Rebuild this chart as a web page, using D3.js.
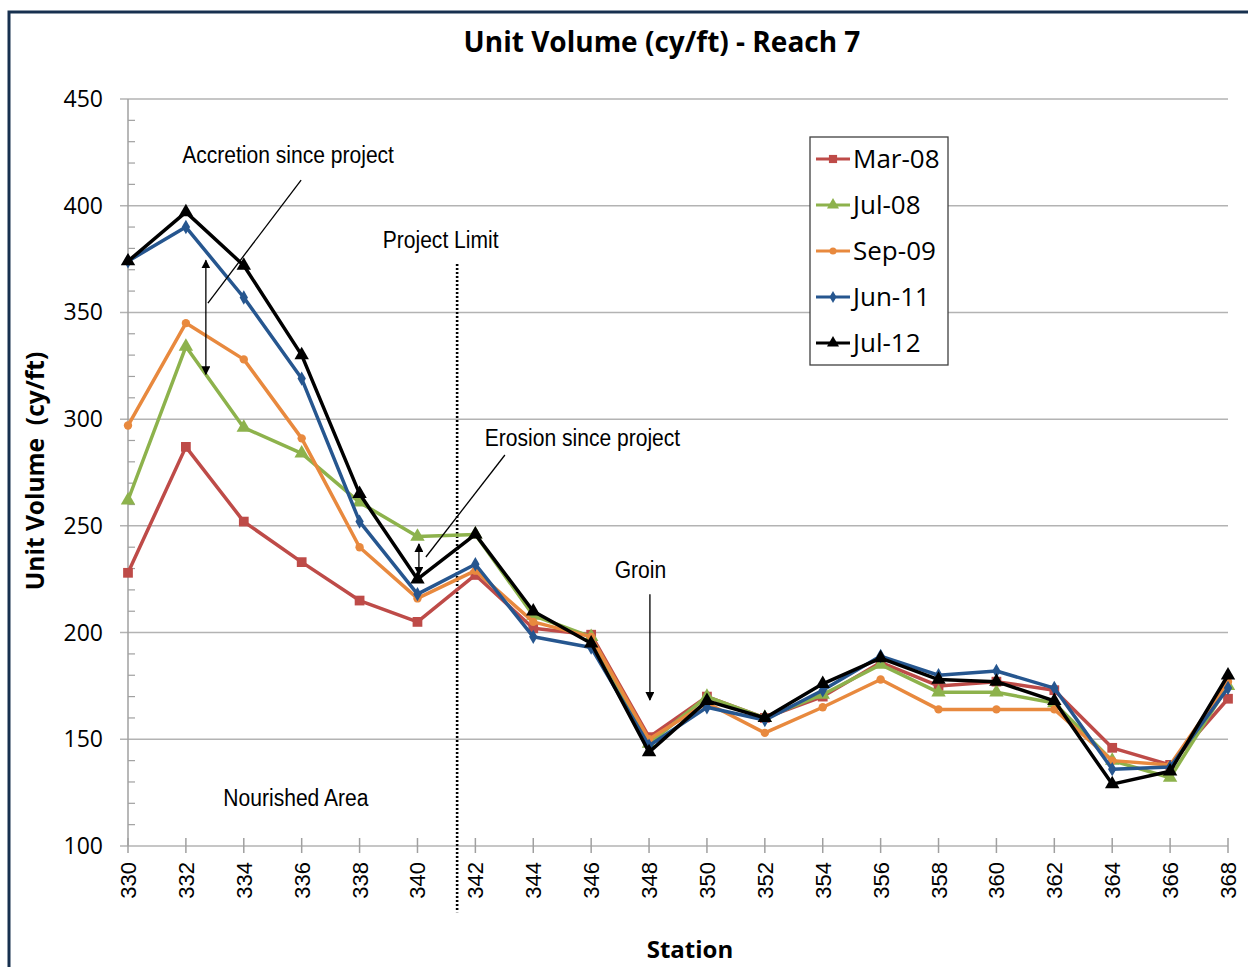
<!DOCTYPE html>
<html><head><meta charset="utf-8">
<script src="https://cdn.jsdelivr.net/npm/d3@7"></script>
<style>body{margin:0;background:#fff;}svg{display:block;}</style>
</head><body>
<svg id="c" width="1248" height="967"></svg>
<script>
const stations = [330,332,334,336,338,340,342,344,346,348,350,352,354,356,358,360,362,364,366,368];
const mar08 = [228,287,252,233,215,205,227,202,199,151,170,160,170,186,175,177,173,146,138,169];
const jul08 = [262,334,296,284,261,245,246,208,198,148,170,160,171,185,172,172,167,140,132,175];
const sep09 = [297,345,328,291,240,216,229,205,198,150,167,153,165,178,164,164,164,140,138,177];
const jun11 = [374,390,357,319,252,218,232,198,193,147,165,159,173,189,180,182,174,136,137,174];
const jul12 = [374,397,372,330,265,225,246,210,195,144,168,160,176,188,178,177,168,129,135,180];
const seriesNames = ["Mar-08","Jul-08","Sep-09","Jun-11","Jul-12"];
const yTicks = [100,150,200,250,300,350,400,450];

const series = [
  {name:seriesNames[0], values:mar08, color:"#be4b48", sym:d3.symbolSquare, size:95},
  {name:seriesNames[1], values:jul08, color:"#8db24c", sym:d3.symbolTriangle, size:90},
  {name:seriesNames[2], values:sep09, color:"#e8893e", sym:d3.symbolCircle, size:55},
  {name:seriesNames[3], values:jun11, color:"#26568f", sym:d3.symbolDiamond, size:60},
  {name:seriesNames[4], values:jul12, color:"#000000", sym:d3.symbolTriangle, size:90}
];

const svg = d3.select("#c");
const L=128, R=1228, T=99, B=846;
const x = d3.scaleLinear().domain([330,368]).range([L,R]);
const y = d3.scaleLinear().domain([100,450]).range([B,T]);

// frame
svg.append("rect").attr("x",9).attr("y",12).attr("width",1260).attr("height",980)
  .attr("fill","none").attr("stroke","#17304f").attr("stroke-width",3);

// gridlines
svg.append("g").selectAll("line").data(yTicks).join("line")
  .attr("x1",L-8).attr("x2",R).attr("y1",d=>y(d)).attr("y2",d=>y(d))
  .attr("stroke","#b3b3b3").attr("stroke-width",1.5);

// minor ticks
const minor = d3.range(110,450,10).filter(v=>v%50!==0);
svg.append("g").selectAll("line").data(minor).join("line")
  .attr("x1",L).attr("x2",L+7).attr("y1",d=>y(d)).attr("y2",d=>y(d))
  .attr("stroke","#a0a0a0").attr("stroke-width",1.2);

// y axis line
svg.append("line").attr("x1",L).attr("x2",L).attr("y1",T).attr("y2",B)
  .attr("stroke","#a0a0a0").attr("stroke-width",1.5);

// y tick labels
svg.append("g").selectAll("text").data(yTicks).join("text")
  .attr("x",103).attr("y",d=>y(d)+8).attr("text-anchor","end")
  .attr("font-family","Open Sans, sans-serif").attr("font-size",23).attr("fill","#000")
  .text(d=>d);

// x axis ticks
svg.append("g").selectAll("line").data(stations).join("line")
  .attr("x1",d=>x(d)).attr("x2",d=>x(d)).attr("y1",B-8).attr("y2",B+7)
  .attr("stroke","#a0a0a0").attr("stroke-width",1.5);
svg.append("g").selectAll("text").data(stations).join("text")
  .attr("transform",d=>`translate(${x(d)+8},862) rotate(-90)`)
  .attr("text-anchor","end")
  .attr("font-family","Liberation Sans, Arial, sans-serif").attr("font-size",22).attr("fill","#000")
  .text(d=>d);

// titles
svg.append("text").attr("x",662).attr("y",52).attr("text-anchor","middle")
  .attr("font-family","Open Sans, sans-serif").attr("font-weight","bold").attr("font-size",28)
  .text("Unit Volume (cy/ft) - Reach 7");
svg.append("text").attr("transform","translate(44,471) rotate(-90)").attr("text-anchor","middle")
  .attr("font-family","Open Sans, sans-serif").attr("font-weight","bold").attr("font-size",24.5)
  .attr("xml:space","preserve")
  .text("Unit Volume  (cy/ft)");
svg.append("text").attr("x",690).attr("y",958).attr("text-anchor","middle")
  .attr("font-family","Open Sans, sans-serif").attr("font-weight","bold").attr("font-size",24)
  .text("Station");

// dotted project limit
svg.append("line").attr("x1",x(341.37)).attr("x2",x(341.37)).attr("y1",y(372.7)).attr("y2",y(69))
  .attr("stroke","#000").attr("stroke-width",2.6).attr("stroke-dasharray","2,2");

// series lines
const line = d3.line().x((d,i)=>x(stations[i])).y(d=>y(d));
const gS = svg.append("g");
series.forEach(s=>{
  gS.append("path").datum(s.values).attr("d",line).attr("fill","none")
    .attr("stroke",s.color).attr("stroke-width",3.5).attr("stroke-linejoin","round");
  gS.append("g").selectAll("path").data(s.values).join("path")
    .attr("transform",(d,i)=>`translate(${x(stations[i])},${y(d)})`)
    .attr("d",d3.symbol().type(s.sym).size(s.size)).attr("fill",s.color);
});

// annotations
const defs = svg.append("defs");
defs.append("marker").attr("id","ah").attr("viewBox","0 0 10 10").attr("refX",9).attr("refY",5)
  .attr("markerWidth",9).attr("markerHeight",9).attr("orient","auto-start-reverse")
  .attr("markerUnits","userSpaceOnUse")
  .append("path").attr("d","M0,0 L10,5 L0,10 z").attr("fill","#000");
const font = "Liberation Sans, Arial, sans-serif";
function txt(s,v,t){
  svg.append("text").attr("transform",`translate(${x(s)},${y(v)}) scale(0.86,1)`)
    .attr("text-anchor","middle")
    .attr("font-family",font).attr("font-size",24.5).attr("fill","#000").text(t);
}
function seg(s1,v1,s2,v2,a1,a2){
  const l = svg.append("line").attr("x1",x(s1)).attr("y1",y(v1)).attr("x2",x(s2)).attr("y2",y(v2))
    .attr("stroke","#000").attr("stroke-width",1.3);
  if(a1) l.attr("marker-start","url(#ah)");
  if(a2) l.attr("marker-end","url(#ah)");
}
txt(335.53,420,"Accretion since project");
seg(335.98,412,332.76,354.4);
seg(332.69,374.4,332.69,321,true,true);
txt(340.8,380,"Project Limit");
txt(345.7,287.4,"Erosion since project");
seg(343.02,283.2,340.29,235.4);
seg(340.05,241.5,340.05,227,true,true);
txt(347.7,225.6,"Groin");
seg(348.03,218,348.03,168.4,false,true);
txt(335.8,118.7,"Nourished Area");

// legend
const lg = svg.append("g");
lg.append("rect").attr("x",810).attr("y",137).attr("width",138).attr("height",228)
  .attr("fill","#fff").attr("stroke","#404040").attr("stroke-width",1.3);
series.forEach((s,i)=>{
  const yy = 159 + i*46;
  lg.append("line").attr("x1",816).attr("x2",850).attr("y1",yy).attr("y2",yy)
    .attr("stroke",s.color).attr("stroke-width",3);
  lg.append("path").attr("transform",`translate(833,${yy})`)
    .attr("d",d3.symbol().type(s.sym).size(s.size*0.7)).attr("fill",s.color);
  lg.append("text").attr("x",853).attr("y",yy+9).attr("font-family","Open Sans, sans-serif")
    .attr("font-size",26).attr("fill","#000").text(s.name);
});
</script>
</body></html>
